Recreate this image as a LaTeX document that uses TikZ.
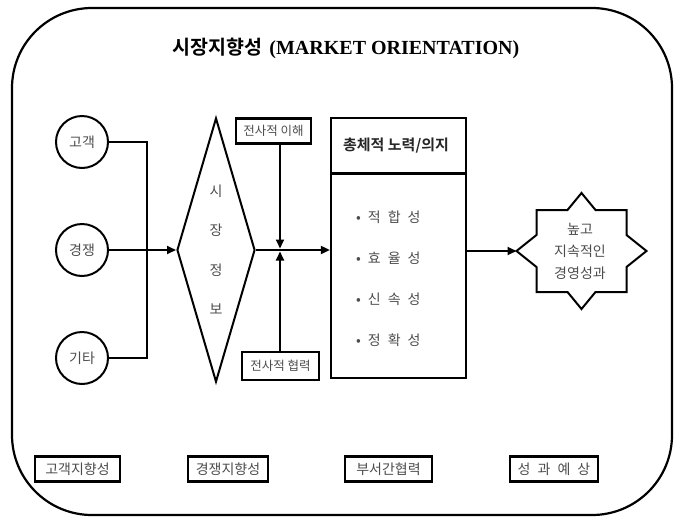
\documentclass[tikz,border=0pt]{standalone}
\usepackage{fontspec}
\setmainfont{Liberation Serif}
\newfontfamily\kr{Noto Sans CJK KR}
\newfontfamily\krb{Noto Sans CJK KR Bold}
\usetikzlibrary{shapes.geometric,arrows.meta}
\tikzset{
  lab/.style={text=black!70, font=\kr\fontsize{14}{16}\selectfont, inner sep=0pt},
  circ/.style={circle, draw, line width=2pt, minimum size=52pt, inner sep=0pt, lab},
  sbox/.style={draw, line width=2.2pt, inner sep=0pt, lab, font=\kr\fontsize{12.5}{14}\selectfont},
  bbox/.style={draw, line width=2.2pt, inner sep=0pt, lab, minimum height=25pt},
  conn/.style={line width=1.8pt},
  arr/.style={line width=1.8pt, -{Triangle[length=9pt,width=8pt]}},
}
\begin{document}
\begin{tikzpicture}[x=1pt,y=-1pt]
\useasboundingbox (0,0) rectangle (683,520);
% frame
\draw[line width=2.2pt, rounded corners=80pt] (12,8) rectangle (672,515);
% title
\node (title) at (346,48) {{\krb\fontsize{19.5}{21}\selectfont 시장지향성}\hspace{7pt}{\bfseries\fontsize{20}{22}\selectfont (MARKET ORIENTATION)}};
% circles
\node[circ] (c1) at (82,142) {고객};
\node[circ] (c2) at (82,250) {경쟁};
\node[circ] (c3) at (82,358) {기타};
\coordinate (bus) at (147,250);
\draw[conn] (c1.east) -| (bus |- c3.east) -- (c3.east);
% diamond
\node[diamond, draw, line width=2pt, minimum width=78pt, minimum height=264pt, inner sep=0pt] (dia) at (216,250) {};
\node[lab, align=center, font=\kr\fontsize{14}{39.5}\selectfont] (diat) at (216,249.5) {시\\장\\정\\보};
\draw[arr] (c2.east) -- (dia.west);
% small boxes
\node[sbox, minimum width=75pt, minimum height=25pt] (u1) at (273.5,131) {전사적 이해};
\node[sbox, minimum width=77pt, minimum height=28pt] (u2) at (280.5,366) {전사적 협력};
\coordinate (jn) at (280,250);
% big box
\node[draw, line width=2.2pt, minimum width=135pt, minimum height=260pt, inner sep=0pt] (bb) at (398.5,248) {};
\coordinate (hl) at (331,173);
\draw[line width=3pt] (hl) -- (hl -| bb.east);
\node[lab, font=\krb\fontsize{15}{16}\selectfont, text=black!85] (hd) at (396,146) {총체적 노력/의지};
\node[lab, anchor=west] (i1) at (356,217) {•\hspace{7pt}적\hspace{7pt}합\hspace{7pt}성};
\node[lab, anchor=west] (i2) at (356,258) {•\hspace{7pt}효\hspace{7pt}율\hspace{7pt}성};
\node[lab, anchor=west] (i3) at (356,299) {•\hspace{7pt}신\hspace{7pt}속\hspace{7pt}성};
\node[lab, anchor=west] (i4) at (356,340) {•\hspace{7pt}정\hspace{7pt}확\hspace{7pt}성};
% connectors middle
\draw[arr] (dia.east) -- (dia.east -| bb.west);
\draw[arr, shorten >=1.5pt] (u1.south -| jn) -- (jn);
\draw[arr, shorten >=1.5pt] (u2.north -| jn) -- (jn);
% star
\coordinate (st) at (581.5,251);
\draw[line width=2pt] (st) ++(0,-58) -- ++(14,17) -- ++(31,0) -- ++(0,25) -- ++(20,16)
  -- ++(-20,16) -- ++(0,25) -- ++(-31,0) -- ++(-14,17) -- ++(-14,-17) -- ++(-31,0)
  -- ++(0,-25) -- ++(-20,-16) -- ++(20,-16) -- ++(0,-25) -- ++(31,0) -- cycle;
\coordinate (stl) at (516.5,251);
\node[lab, align=center, font=\kr\fontsize{14}{22}\selectfont] (stt) at (580,251) {높고\\지속적인\\경영성과};
\draw[arr] (bb.east |- stl) -- (stl);
% bottom labels
\node[bbox, minimum width=85pt] (b1) at (77.5,469) {고객지향성};
\node[bbox, minimum width=80pt] (b2) at (228,469) {경쟁지향성};
\node[bbox, minimum width=87pt] (b3) at (388.5,469) {부서간협력};
\node[bbox, minimum width=88pt] (b4) at (554,469) {성\hspace{7pt}과\hspace{7pt}예\hspace{7pt}상};
\end{tikzpicture}
\end{document}
